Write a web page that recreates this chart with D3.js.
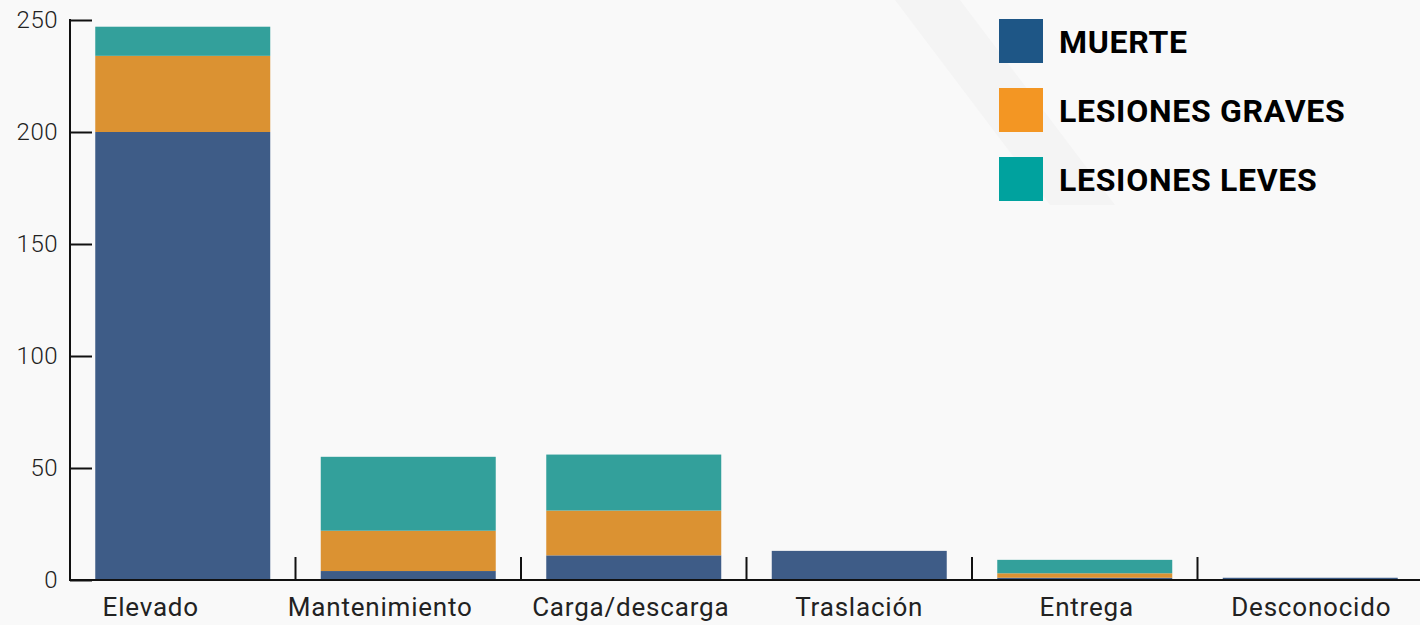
<!DOCTYPE html>
<html><head><meta charset="utf-8">
<script src="https://cdn.jsdelivr.net/npm/d3@7"></script>
<style>
html,body{margin:0;padding:0;background:#F9F9F9;}
svg{display:block;}
</style></head>
<body>
<svg id="chart" width="1420" height="625"></svg>
<script>
const categories = ["Elevado","Mantenimiento","Carga/descarga","Traslación","Entrega","Desconocido"];
const seriesNames = ["MUERTE","LESIONES GRAVES","LESIONES LEVES"];
const muerte  = [200, 4, 11, 13, 1, 1];
const graves  = [34, 18, 20, 0, 2, 0];
const leves   = [13, 33, 25, 0, 6, 0];
const yTicks  = [0, 50, 100, 150, 200, 250];
const barColors    = ["#3E5C87","#DB9232","#33A09B"];
const legendColors = ["#1E5686","#F39623","#00A29E"];
const labelShift   = [-32, -28, -3, 0, 2, 1];

const svg = d3.select("#chart");
const W = 1420, H = 625;
const x0 = 70, xEnd = 1423, yBase = 580, yTop = 20;

svg.append("rect").attr("width",W).attr("height",H).attr("fill","#F9F9F9");
// faint diagonal band in background
svg.append("path").attr("d","M895,0 L960,0 L1115,205 L1050,205 Z").attr("fill","#F4F4F4");

const x = d3.scaleBand().domain(categories).range([x0, xEnd]).paddingInner(0.224).paddingOuter(0.112);
const y = d3.scaleLinear().domain([0,250]).range([yBase, yTop]);

const rows = categories.map((c,i)=>({cat:c, MUERTE:muerte[i], "LESIONES GRAVES":graves[i], "LESIONES LEVES":leves[i]}));
const stacked = d3.stack().keys(seriesNames)(rows);

svg.append("g").selectAll("g").data(stacked).join("g")
  .attr("fill",(d,i)=>barColors[i])
  .selectAll("rect").data(d=>d).join("rect")
  .attr("x",d=>x(d.data.cat))
  .attr("width",x.bandwidth())
  .attr("y",d=>y(d[1]))
  .attr("height",d=>Math.max(0,y(d[0])-y(d[1])));

// Y axis
const yAxis = d3.axisRight(y).tickValues(yTicks).tickSize(22).tickFormat("");
const gy = svg.append("g").attr("transform",`translate(${x0},0)`).call(yAxis);
gy.select(".domain").remove();
gy.selectAll(".tick line").attr("stroke","#111").attr("stroke-width",2);
svg.append("line").attr("x1",x0).attr("x2",x0).attr("y1",yTop-1).attr("y2",yBase+1)
  .attr("stroke","#111").attr("stroke-width",2);
svg.append("g").selectAll("text").data(yTicks).join("text")
  .attr("x",58).attr("y",d=>y(d)).attr("dy","0.35em")
  .attr("text-anchor","end")
  .attr("font-family","Roboto").attr("font-weight",300).attr("font-size",24)
  .attr("letter-spacing",0.5)
  .attr("fill","#222").text(d=>d);

// X axis baseline
svg.append("line").attr("x1",x0-1).attr("x2",W).attr("y1",yBase).attr("y2",yBase)
  .attr("stroke","#111").attr("stroke-width",2);
// category boundary ticks
const bounds = categories.slice(1).map(c=>x(c) - x.step()*x.paddingInner()/2);
svg.append("g").selectAll("line").data(bounds).join("line")
  .attr("x1",d=>d).attr("x2",d=>d).attr("y1",557).attr("y2",yBase)
  .attr("stroke","#111").attr("stroke-width",2);
// category labels
svg.append("g").selectAll("text").data(categories).join("text")
  .attr("x",(d,i)=>x(d)+x.bandwidth()/2+labelShift[i]).attr("y",616)
  .attr("text-anchor","middle")
  .attr("font-family","Roboto").attr("font-size",26)
  .attr("letter-spacing",0.8)
  .attr("fill","#222").text(d=>d);

// legend
const lg = svg.append("g");
seriesNames.forEach((s,i)=>{
  const yy = 19 + i*69;
  lg.append("rect").attr("x",999).attr("y",yy).attr("width",44).attr("height",44).attr("fill",legendColors[i]);
  lg.append("text").attr("x",1059).attr("y",yy+34)
    .attr("font-family","Roboto").attr("font-weight",700).attr("font-size",32)
    .attr("letter-spacing",0.7)
    .attr("fill","#000").text(s);
});
</script>
</body></html>
